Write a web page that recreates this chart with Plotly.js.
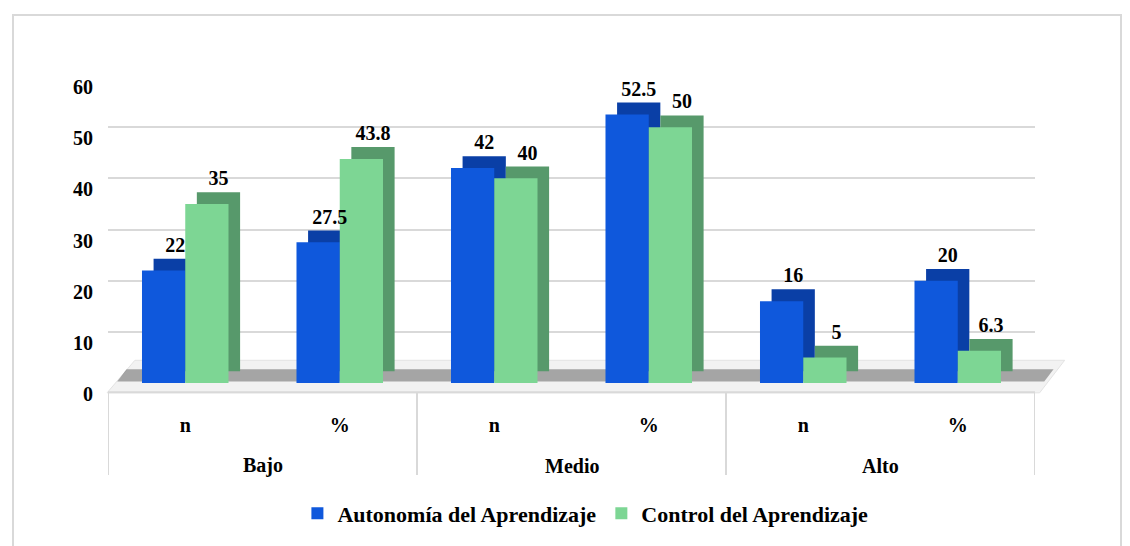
<!DOCTYPE html>
<html>
<head>
<meta charset="utf-8">
<script src="https://cdn.plot.ly/plotly-3.0.1.min.js"></script>
<style>
html,body{margin:0;padding:0;background:#fff;}
#wrap{position:relative;width:1130px;height:546px;}
#chart{position:absolute;left:0;top:0;width:1130px;height:546px;}
#frame{position:absolute;left:12px;top:14px;width:1106px;height:530px;border:2px solid #d9d9d9;pointer-events:none;}
</style>
</head>
<body>
<div id="wrap"><div id="chart"></div><div id="frame"></div></div>
<script>
const levels = ['Bajo','Medio','Alto'];
const measures = ['n','%','n','%','n','%'];
const autonomia = [22, 27.5, 42, 52.5, 16, 20];
const control = [35, 43.8, 40, 50, 5, 6.3];
const seriesNames = ['Autonomía del Aprendizaje','Control del Aprendizaje'];
const yTicks = [0,10,20,30,40,50,60];

const font = 'Liberation Serif';
const txtFont = {family: font, size: 20, color: '#000', weight: 'bold'};
const xs = measures.map((m, i) => i);

// visual style for pseudo-3D
const W = 0.28;       // face width (category units)
const DX = 0.075;     // depth shift to the right
const DY = 2.3;       // depth shift upward (value units)

function depthTrace(vals, color, off){
  return {type:'bar', x:xs, y:vals, base:DY, width:W, offset:off + DX,
          marker:{color:color, line:{width:0}}, showlegend:false, hoverinfo:'skip'};
}
function faceTrace(vals, name, color, off){
  return {type:'bar', name:name, x:xs, y:vals, width:W, offset:off,
          marker:{color:color, line:{width:0}}, hoverinfo:'y'};
}
function labelTrace(vals, off){
  return {type:'bar', x:xs, y:vals, base:DY, width:W, offset:off + DX,
          marker:{color:'rgba(0,0,0,0)'}, text:vals.map(String), textposition:'outside',
          cliponaxis:false, textfont:txtFont, showlegend:false, hoverinfo:'skip'};
}

const traces = [
  depthTrace(autonomia, '#0a3fa6', -W),
  faceTrace(autonomia, seriesNames[0], '#0f58dc', -W),
  depthTrace(control, '#57996b', 0),
  faceTrace(control, seriesNames[1], '#7dd694', 0),
  labelTrace(autonomia, -W),
  labelTrace(control, 0)
];

const annotations = levels.map((lv, k) => ({
  x: 2*k + 0.5, xref:'x', y:-0.27, yref:'paper', yanchor:'middle',
  text: lv, showarrow:false, font:{family:font, size:20, color:'#000', weight:'bold'}
}));
const dividers = [0,1,2,3].map(k => ({
  type:'line', xref:'x', yref:'paper', x0:2*k - 0.5, x1:2*k - 0.5, y0:-0.03, y1:-0.3,
  line:{color:'#d9d9d9', width:2}
}));
const floor = [
  {type:'path', xref:'paper', yref:'paper', layer:'below',
   path:'M -0.001,-0.032 L 0.029,0.074 L 1.032,0.074 L 1.005,-0.032 Z',
   fillcolor:'#f2f2f2', line:{color:'#e3e3e3', width:1}},
  {type:'path', xref:'paper', yref:'paper', layer:'below',
   path:'M 0.01,0.005 L 0.02,0.045 L 1.02,0.045 L 1.01,0.005 Z',
   fillcolor:'rgba(70,70,70,0.45)', line:{width:0}}
];

const layout = {
  width:1130, height:546,
  font:{family:font, color:'#000'},
  margin:{l:108, r:95, t:76, b:158},
  paper_bgcolor:'rgba(0,0,0,0)', plot_bgcolor:'rgba(0,0,0,0)',
  barmode:'overlay',
  showlegend:true,
  legend:{orientation:'h', x:0.515, xanchor:'center', y:-0.425, yanchor:'middle',
          font:{family:font, size:22, color:'#000', weight:'bold'}, traceorder:'normal'},
  xaxis:{range:[-0.5, 5.5], tickvals:xs, ticktext:measures,
         tickfont:{family:font, size:20, color:'#000', weight:'bold'},
         ticklabelstandoff:28, showline:false, ticks:'', showgrid:false, zeroline:false},
  yaxis:{range:[0,60], tickvals:yTicks, ticktext:yTicks.map(String),
         tickfont:{family:font, size:20, color:'#000', weight:'bold'},
         gridcolor:'#d9d9d9', gridwidth:2, zeroline:false, showline:false,
         ticks:'', ticklabelstandoff:14, ticklabelshift:11},
  annotations: annotations,
  shapes: floor.concat(dividers).concat([{type:'line', xref:'paper', yref:'paper', x0:0, x1:1, y0:-0.03, y1:-0.03,
                             line:{color:'#d9d9d9', width:2}}])
};

Plotly.newPlot('chart', traces, layout, {displayModeBar:false, staticPlot:true});
</script>
</body>
</html>
